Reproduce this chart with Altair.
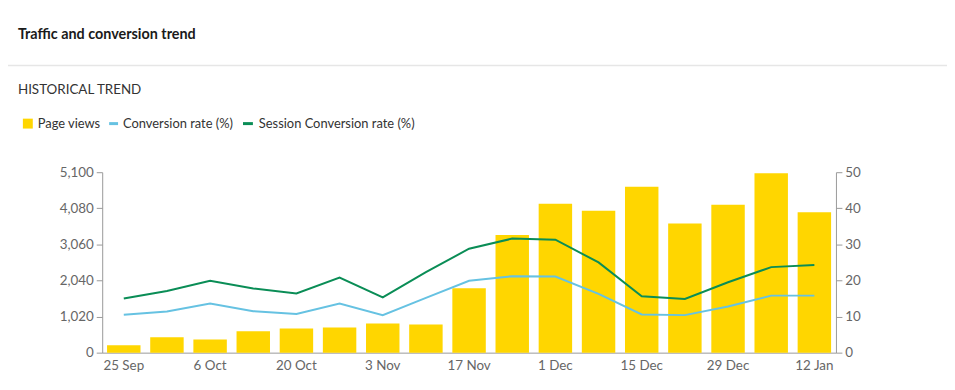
import altair as alt
import pandas as pd

weeks = ["25 Sep", "29 Sep", "6 Oct", "13 Oct", "20 Oct", "27 Oct", "3 Nov", "10 Nov",
         "17 Nov", "24 Nov", "1 Dec", "8 Dec", "15 Dec", "22 Dec", "29 Dec", "5 Jan", "12 Jan"]
shown_labels = ["25 Sep", "6 Oct", "20 Oct", "3 Nov", "17 Nov", "1 Dec", "15 Dec", "29 Dec", "12 Jan"]
page_views = [210, 437, 372, 607, 681, 709, 821, 793, 1821, 3325, 4211, 4007, 4688, 3651, 4183, 5072, 3968]
conversion_rate = [10.5, 11.4, 13.6, 11.5, 10.7, 13.6, 10.4, 15.2, 19.9, 21.2, 21.1, 16.3, 10.6, 10.4, 12.8, 15.8, 15.8]
session_conversion_rate = [15.0, 17.1, 19.9, 17.8, 16.4, 20.8, 15.3, 22.3, 28.8, 31.6, 31.3, 25.0, 15.6, 14.9, 19.5, 23.7, 24.3]
left_ticks = [0, 1020, 2040, 3060, 4080, 5100]
right_ticks = [0, 10, 20, 30, 40, 50]

series_names = ["Conversion rate (%)", "Session Conversion rate (%)"]
series_colors = ["#66C2E2", "#0A8D56"]
bar_color = "#FFD600"
FONT = "Lato"

bars_df = pd.DataFrame({"week": weeks, "views": page_views})
lines_df = pd.DataFrame({
    "week": weeks * 2,
    "rate": conversion_rate + session_conversion_rate,
    "series": [series_names[0]] * len(weeks) + [series_names[1]] * len(weeks),
})

x_axis = alt.Axis(title=None, values=shown_labels, labelAngle=0, ticks=False, orient="bottom",
                  domainColor="#999999", labelColor="#666666", labelFontSize=13.5,
                  labelFont=FONT, labelPadding=6, grid=False)

bars = alt.Chart(bars_df).mark_bar(color=bar_color).encode(
    x=alt.X("week:N", sort=weeks,
            scale=alt.Scale(paddingInner=0.225, paddingOuter=0.1125), axis=x_axis),
    y=alt.Y("views:Q", scale=alt.Scale(domain=[0, 5100], nice=False),
            axis=alt.Axis(title=None, values=left_ticks, format=",d", grid=False,
                          domainColor="#999999", tickColor="#999999", tickSize=6,
                          labelColor="#666666", labelFontSize=13.5, labelFont=FONT, labelPadding=3)),
)

lines = alt.Chart(lines_df).mark_line(strokeWidth=2).encode(
    x=alt.X("week:N", sort=weeks, axis=x_axis),
    y=alt.Y("rate:Q", scale=alt.Scale(domain=[0, 50], nice=False),
            axis=alt.Axis(title=None, values=right_ticks, orient="right", grid=False,
                          domainColor="#999999", tickColor="#999999", tickSize=6,
                          labelColor="#666666", labelFontSize=13.5, labelFont=FONT, labelPadding=3)),
    color=alt.Color("series:N", scale=alt.Scale(domain=series_names, range=series_colors), legend=None),
)

one = alt.Data(values=[{"k": 1}])

def txt(s, x, y, size, weight="normal", color="#333333"):
    return alt.Chart(one).mark_text(align="left", baseline="middle", font=FONT, fontSize=size,
                                    fontWeight=weight, color=color).encode(
        x=alt.value(x), y=alt.value(y), text=alt.value(s))

def rule(x1, x2, y, color, width):
    return alt.Chart(one).mark_rule(color=color, strokeWidth=width).encode(
        x=alt.value(x1), x2=alt.value(x2), y=alt.value(y))

title = txt("Traffic and conversion trend", -85, -138.5, 14.5, "bold", "#1a1a1a")
subtitle = txt("HISTORICAL TREND", -85, -83, 13.5, "normal", "#333333")
divider = rule(-95, 860, -107.5, "#e6e6e6", 1.5)
leg_sq = alt.Chart(one).mark_rect(color=bar_color).encode(
    x=alt.value(-80), x2=alt.value(-70), y=alt.value(-54), y2=alt.value(-44))
leg1 = txt("Page views", -65, -49, 13)
leg_b = rule(7, 16, -49, series_colors[0], 3)
leg2 = txt(series_names[0], 21, -49, 13)
leg_g = rule(142, 152, -49, series_colors[1], 3)
leg3 = txt(series_names[1], 158, -49, 13)

chart = alt.layer(
    bars, lines, title, subtitle, divider, leg_sq, leg1, leg_b, leg2, leg_g, leg3
).resolve_scale(y="independent").properties(
    width=740, height=182,
    padding={"left": 95, "top": 164, "right": 112, "bottom": 28},
    autosize=alt.AutoSizeParams(type="none"),
    background="white",
).configure_view(strokeWidth=0).configure_axis(grid=False)

chart.save("out.html", embed_options={"renderer": "svg", "actions": False})
